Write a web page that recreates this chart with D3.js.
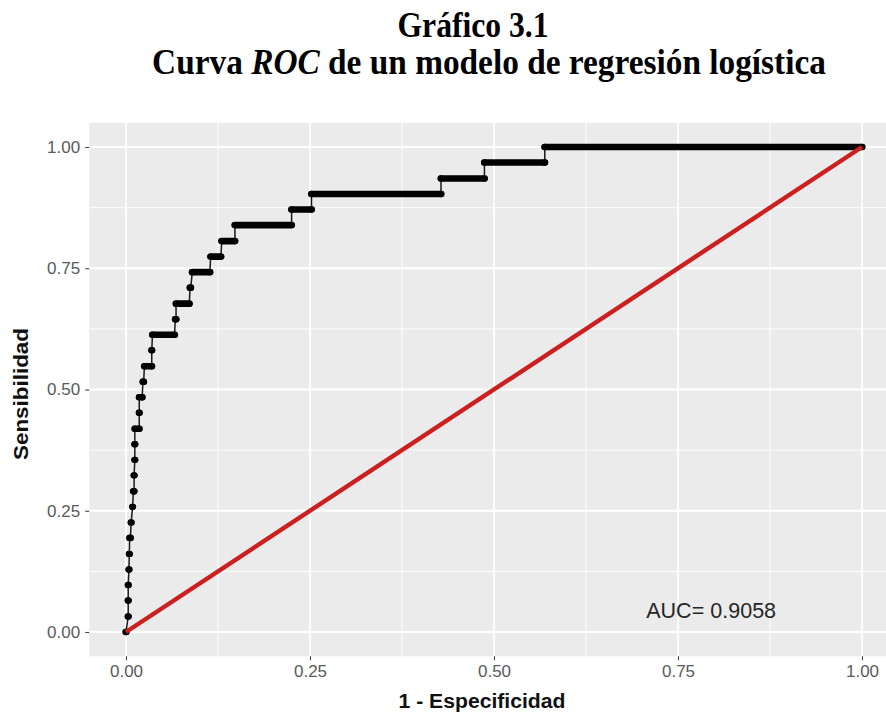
<!DOCTYPE html>
<html><head><meta charset="utf-8">
<script src="https://cdn.jsdelivr.net/npm/d3@7"></script>
<style>body{margin:0;background:#fff}svg{display:block}</style>
</head><body>
<script>
// ---- data ----
const xTicks = [0, 0.25, 0.5, 0.75, 1];
const yTicks = [0, 0.25, 0.5, 0.75, 1];
const minorTicks = [0.125, 0.375, 0.625, 0.875];
const tickLabels = ["0.00", "0.25", "0.50", "0.75", "1.00"];
// sensitivity levels of the ROC steps
const sensitivity = [0.000,0.032,0.065,0.097,0.129,0.161,0.194,0.226,0.258,0.290,0.323,0.355,0.387,0.419,0.452,0.484,0.516,0.548,0.581,0.613,0.645,0.677,0.710,0.742,0.774,0.806,0.839,0.871,0.903,0.935,0.968,1.000];
// 1 - specificity where each level starts / ends
const fprFrom = [0.000,0.003,0.003,0.003,0.004,0.0045,0.005,0.007,0.009,0.010,0.011,0.012,0.012,0.012,0.018,0.018,0.023,0.025,0.035,0.036,0.067,0.068,0.087,0.090,0.115,0.130,0.148,0.225,0.252,0.428,0.487,0.569];
const fprTo   = [0.000,0.003,0.003,0.003,0.004,0.0045,0.006,0.007,0.009,0.011,0.011,0.012,0.012,0.018,0.018,0.022,0.024,0.035,0.035,0.066,0.068,0.086,0.088,0.114,0.129,0.148,0.225,0.252,0.428,0.487,0.569,1.000];
const diagonal = [[0, 0], [1, 1]];
const aucLabel = "AUC= 0.9058";
const titleLine1 = "Gráfico 3.1";
const xTitle = "1 - Especificidad";
const yTitle = "Sensibilidad";

// ---- layout ----
const W = 886, H = 718;
const svg = d3.select("body").append("svg").attr("width", W).attr("height", H);
const x = d3.scaleLinear().domain([-0.05, 1.05]).range([89.2, 898.8]);
const y = d3.scaleLinear().domain([-0.05, 1.05]).range([656.25, 122.75]);

function squeeze(t, target) {
  const w = t.node().getBBox().width;
  return target / w;
}

// panel
svg.append("rect").attr("x", x(-0.05)).attr("y", y(1.05))
  .attr("width", x(1.05) - x(-0.05)).attr("height", y(-0.05) - y(1.05))
  .attr("fill", "#ebebeb");

const grid = svg.append("g");
grid.selectAll(".vmin").data(minorTicks).join("line")
  .attr("x1", d => x(d)).attr("x2", d => x(d)).attr("y1", y(1.05)).attr("y2", y(-0.05))
  .attr("stroke", "#fff").attr("stroke-width", 0.9);
grid.selectAll(".hmin").data(minorTicks).join("line")
  .attr("y1", d => y(d)).attr("y2", d => y(d)).attr("x1", x(-0.05)).attr("x2", x(1.05))
  .attr("stroke", "#fff").attr("stroke-width", 0.9);
grid.selectAll(".vmaj").data(xTicks).join("line")
  .attr("x1", d => x(d)).attr("x2", d => x(d)).attr("y1", y(1.05)).attr("y2", y(-0.05))
  .attr("stroke", "#fff").attr("stroke-width", 1.8);
grid.selectAll(".hmaj").data(yTicks).join("line")
  .attr("y1", d => y(d)).attr("y2", d => y(d)).attr("x1", x(-0.05)).attr("x2", x(1.05))
  .attr("stroke", "#fff").attr("stroke-width", 1.8);

// axes
const xAxis = svg.append("g").attr("transform", `translate(0,${y(-0.05)})`)
  .call(d3.axisBottom(x).tickValues(xTicks).tickFormat((d, i) => tickLabels[i]).tickSize(4).tickPadding(5));
const yAxis = svg.append("g").attr("transform", `translate(${x(-0.05)},0)`)
  .call(d3.axisLeft(y).tickValues(yTicks).tickFormat((d, i) => tickLabels[i]).tickSize(4).tickPadding(5));
[xAxis, yAxis].forEach(a => {
  a.select(".domain").remove();
  a.selectAll(".tick line").attr("stroke", "#444").attr("stroke-width", 1.1);
  a.selectAll(".tick text").attr("fill", "#5a5a5a")
    .style("font-family", "'Liberation Sans', Arial, sans-serif").style("font-size", "17px");
});

// ROC curve
const verts = [];
sensitivity.forEach((s, i) => { verts.push([fprFrom[i], s]); verts.push([fprTo[i], s]); });
const line = d3.line().x(d => x(d[0])).y(d => y(d[1]));
svg.append("path").attr("d", line(verts)).attr("fill", "none")
  .attr("stroke", "#1a1a1a").attr("stroke-width", 1.5);
// horizontal runs of dense points
svg.append("g").selectAll("line").data(sensitivity.map((s, i) => ({s, a: fprFrom[i], b: fprTo[i]})).filter(d => d.b > d.a))
  .join("line")
  .attr("x1", d => x(d.a)).attr("x2", d => x(d.b)).attr("y1", d => y(d.s)).attr("y2", d => y(d.s))
  .attr("stroke", "#000").attr("stroke-width", 6.6).attr("stroke-linecap", "round");
svg.append("g").selectAll("ellipse").data(verts).join("ellipse")
  .attr("cx", d => x(d[0])).attr("cy", d => y(d[1])).attr("rx", 3.5).attr("ry", 3.2).attr("fill", "#000");

// diagonal
svg.append("path").attr("d", line(diagonal)).attr("fill", "none")
  .attr("stroke", "#cc1f1f").attr("stroke-width", 4.4);

// AUC annotation
const at = svg.append("text").attr("text-anchor", "middle").attr("fill", "#262626")
  .style("font-family", "'Liberation Sans', Arial, sans-serif").style("font-size", "22px")
  .text(aucLabel);
at.attr("transform", `translate(${x(0.795)},${y(0.045) + 8}) scale(${squeeze(at, 130)},1)`);

// axis titles
const xt = svg.append("text").attr("text-anchor", "middle").attr("fill", "#111")
  .style("font-family", "'Liberation Sans', Arial, sans-serif").style("font-size", "21px").style("font-weight", "bold")
  .text(xTitle);
xt.attr("transform", `translate(482,708) scale(${squeeze(xt, 167)},1)`);
const yt = svg.append("text").attr("text-anchor", "middle").attr("fill", "#111")
  .style("font-family", "'Liberation Sans', Arial, sans-serif").style("font-size", "21px").style("font-weight", "bold")
  .text(yTitle);
yt.attr("transform", `translate(28,394) rotate(-90) scale(${squeeze(yt, 132)},1)`);

// title
const t1 = svg.append("text").attr("text-anchor", "middle").attr("fill", "#000")
  .style("font-family", "'Liberation Serif', 'Times New Roman', serif").style("font-size", "36px").style("font-weight", "bold")
  .text(titleLine1);
t1.attr("transform", `translate(473,37) scale(${squeeze(t1, 151)},1)`);
const t2 = svg.append("text").attr("text-anchor", "middle").attr("fill", "#000")
  .style("font-family", "'Liberation Serif', 'Times New Roman', serif").style("font-size", "36px").style("font-weight", "bold");
t2.append("tspan").text("Curva ");
t2.append("tspan").style("font-style", "italic").text("ROC");
t2.append("tspan").text(" de un modelo de regresión logística");
t2.attr("transform", `translate(489,74) scale(${squeeze(t2, 674)},1)`);
</script>
</body></html>
